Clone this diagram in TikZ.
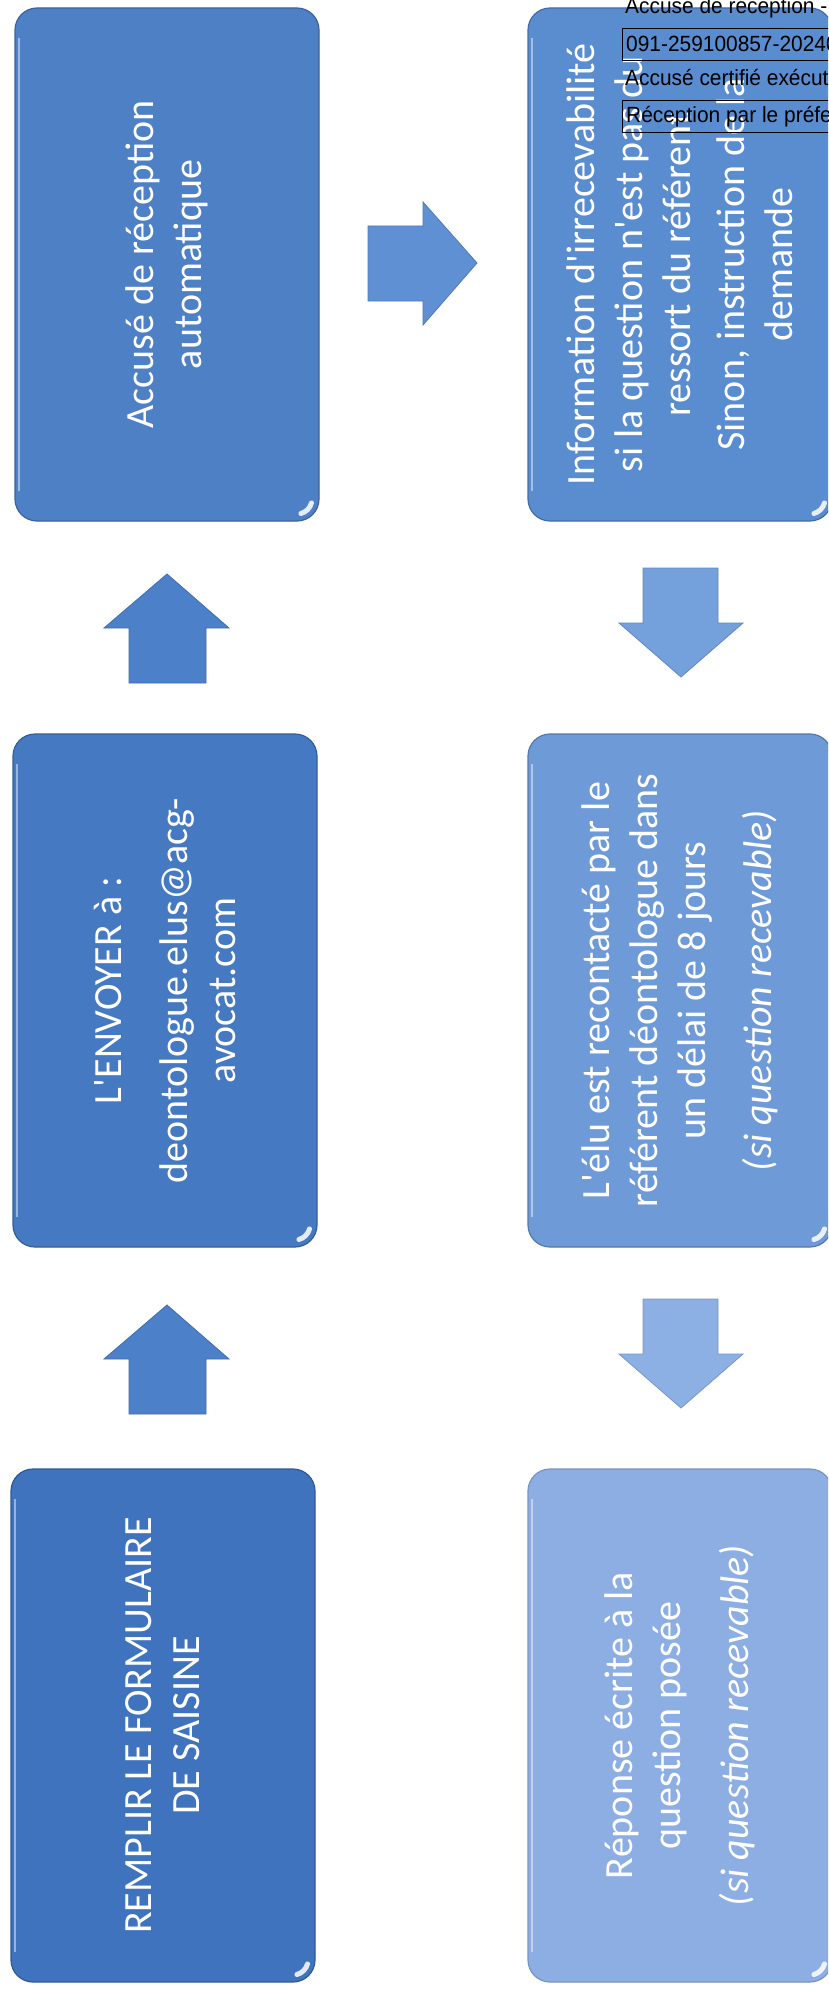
\documentclass[tikz,border=0pt]{standalone}
\usepackage{fontspec}
\setmainfont{Carlito}[Ligatures=TeXOff]
\newfontfamily\stampfont[FakeStretch=0.95]{Liberation Sans}
\definecolor{cA}{HTML}{4E80C6}
\definecolor{cB}{HTML}{5A8CD0}
\definecolor{cC}{HTML}{4579C2}
\definecolor{cD}{HTML}{6F9AD8}
\definecolor{cE}{HTML}{3F73BD}
\definecolor{cF}{HTML}{8DAEE3}
\definecolor{arR}{HTML}{5F90D4}
\definecolor{arU}{HTML}{4C80C9}
\definecolor{arD}{HTML}{74A0DC}
\definecolor{arD2}{HTML}{8DB0E4}
\tikzset{
  flowbox/.style={rounded corners=22pt, line width=1.2pt, rotate=90,
    minimum width=513pt, minimum height=304pt, inner sep=0pt,
    text=white, align=center, font=\fontsize{40}{48}\selectfont},
  stamptext/.style={inner sep=0pt, text=black, anchor=base west,
    font=\stampfont\fontsize{22}{24}\selectfont},
  stampbox/.style={draw=black, line width=1pt, anchor=north west, minimum height=32pt,
    minimum width=260pt, inner sep=0pt},
  gloss/.style={white, line width=5pt, line cap=round, opacity=.85},
  sheen/.style={white, line width=2pt, opacity=.45}
}
\newcommand{\boxgloss}[4]{% x0 y0 x1 y1
  \draw[gloss, shift={(#3-22,#4-22)}] (15:15) arc[start angle=15, end angle=75, radius=15];
  \draw[sheen] (#1+4,#2+30) -- (#1+4,#4-30);
}
\begin{document}
\begin{tikzpicture}[x=1pt,y=-1pt]
\useasboundingbox (0,0) rectangle (828,1993);
\clip (0,0) rectangle (828,1993);
\fill[white] (0,0) rectangle (828,1993);

% left column
\node[flowbox, fill=cA, draw=cA!78!black] (A) at (167,264.5) {Accusé de réception\\automatique};
\boxgloss{15}{8}{319}{521}
\node[flowbox, fill=cC, draw=cC!78!black] (C) at (165,990.5) {L'ENVOYER à :\\[18pt]deontologue.elus@acg-\\avocat.com};
\boxgloss{13}{734}{317}{1247}
\node[flowbox, fill=cE, draw=cE!78!black] (E) at (163,1725.5) {REMPLIR LE FORMULAIRE\\DE SAISINE};
\boxgloss{11}{1469}{315}{1982}

% right column
\node[flowbox, fill=cB, draw=cB!78!black] (B) at (680,264.5) {Information d'irrecevabilité\\si la question n'est pas du\\ressort du référent\\[6pt]Sinon, instruction de la\\demande};
\boxgloss{528}{8}{832}{521}
\node[flowbox, fill=cD, draw=cD!78!black] (D) at (680,990.5) {L'élu est recontacté par le\\référent déontologue dans\\un délai de 8 jours\\[18pt]\textit{(si question recevable)}};
\boxgloss{528}{734}{832}{1247}
\node[flowbox, fill=cF, draw=cF!85!black] (F) at (680,1725.5) {Réponse écrite à la\\question posée\\[20pt]\textit{(si question recevable)}};
\boxgloss{528}{1469}{832}{1982}

% block arrows
\filldraw[fill=arR, draw=arR!85!black, line width=.8pt]
  (368,226) -- (423,226) -- (423,202) -- (477,263) -- (423,325) -- (423,301) -- (368,301) -- cycle;
\foreach \dy in {0,731} {
  \filldraw[fill=arU, draw=arU!85!black, line width=.8pt, yshift=-\dy pt]
    (129,683) -- (129,628) -- (104,628) -- (167,574) -- (229,628) -- (206,628) -- (206,683) -- cycle;
}
\filldraw[fill=arD, draw=arD!85!black, line width=.8pt]
  (643,568) -- (718,568) -- (718,623) -- (743,623) -- (681,677) -- (619,623) -- (643,623) -- cycle;
\filldraw[fill=arD2, draw=arD2!85!black, line width=.8pt, yshift=-731pt]
  (643,568) -- (718,568) -- (718,623) -- (743,623) -- (681,677) -- (619,623) -- (643,623) -- cycle;

% stamp overlay
\node[stamptext] (s1) at (625,14) {Accusé de réception -};
\node[stampbox] (r2) at (622,28) {};
\node[stamptext] (s2) at (626,52) {091-259100857-20240};
\node[stamptext] (s3) at (625,86) {Accusé certifié exécut};
\node[stampbox] (r4) at (622,100) {};
\node[stamptext] (s4) at (626,123) {Réception par le préfe};
\end{tikzpicture}
\end{document}
